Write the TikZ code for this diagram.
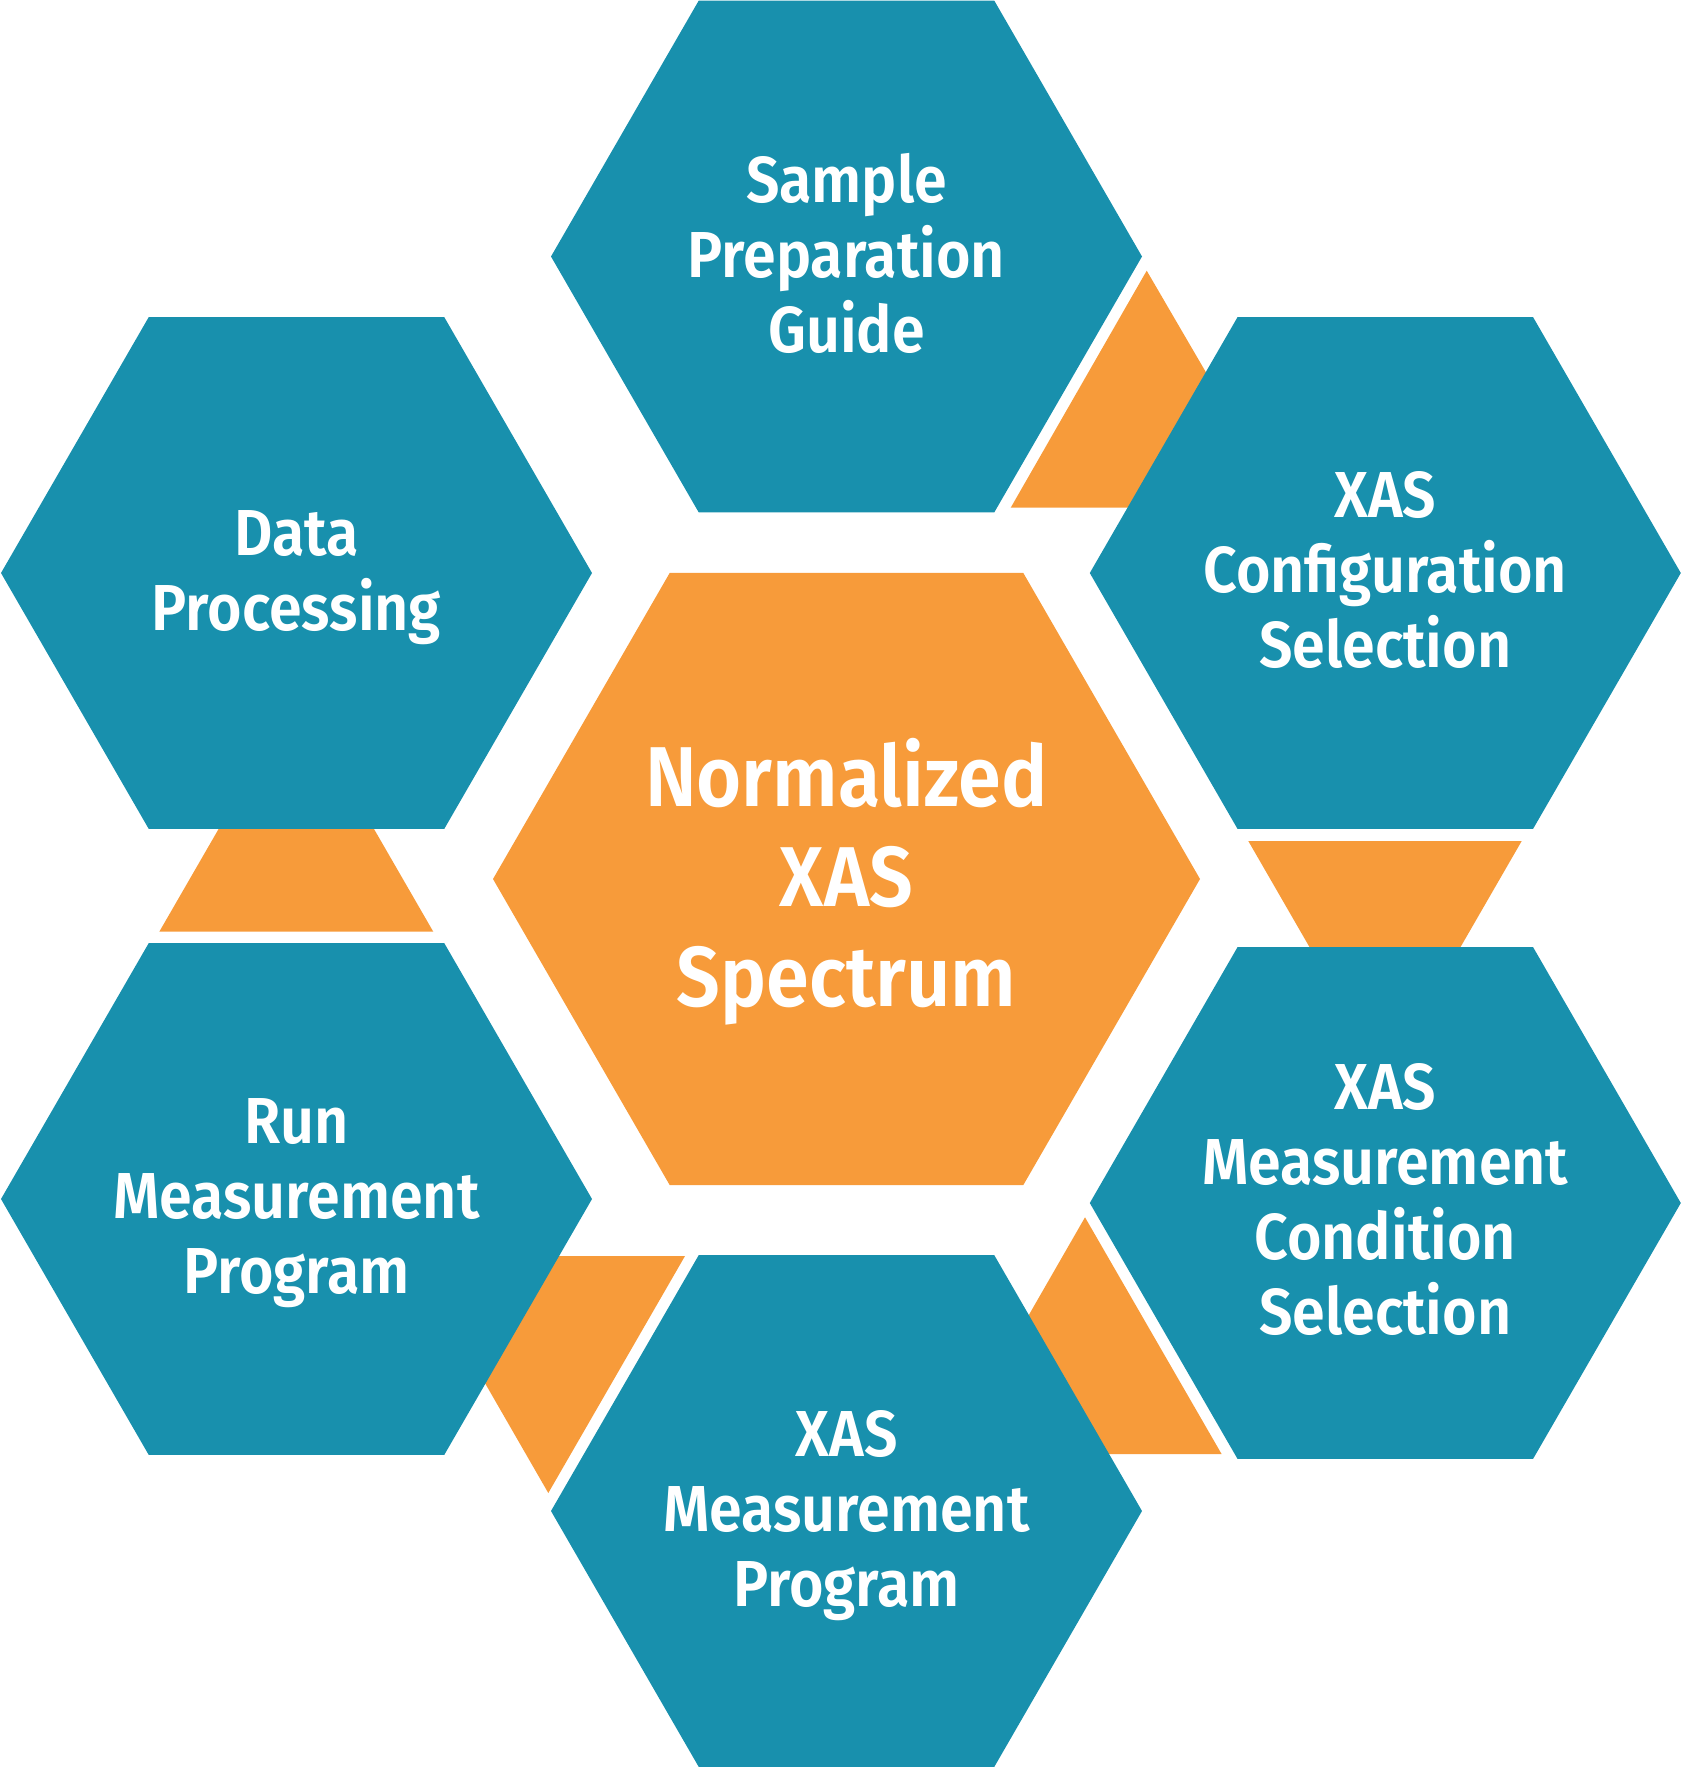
\documentclass[tikz,border=0pt]{standalone}
\usepackage{fontspec}
\setmainfont{Fira Sans}[UprightFont={* SemiBold}, FakeStretch=0.91]
\definecolor{hexteal}{RGB}{24,144,173}
\definecolor{hexorange}{RGB}{247,155,58}
\tikzset{
  hexlabel/.style={text=white, align=center, inner sep=0pt, font=\fontsize{32.5}{37.5}\selectfont},
  bigl/.style={text=white, align=center, inner sep=0pt, font=\fontsize{42.5}{50}\selectfont},
  tri/.style={fill=hexorange},
  hexfill/.style={fill=hexteal}
}
\begin{document}
\begin{tikzpicture}[x=0.5pt,y=-0.5pt]
\useasboundingbox (0,0) rectangle (1681,1768);
% orange triangles
\fill[tri] (1146.7,270.7) -- (1010.7,507.7) -- (1284.9,507.7) -- cycle;
\fill[tri] (1248.3,841) -- (1521.7,841) -- (1385,1077.9) -- cycle;
\fill[tri] (1085,1217.3) -- (948.8,1454.2) -- (1221.7,1454.2) -- cycle;
\fill[tri] (411.8,1256) -- (685,1256) -- (548.3,1493) -- cycle;
\fill[tri] (296.3,694.4) -- (159.3,931.7) -- (433.3,931.7) -- cycle;
% hexagons
\foreach \cx/\cy in {846.5/256.5, 296.5/573, 1385.3/573, 296.5/1199, 1385.3/1203, 846.5/1511}{
  \fill[hexfill, shift={(\cx,\cy)}] (0:295.5) -- (60:295.5) -- (120:295.5) -- (180:295.5) -- (240:295.5) -- (300:295.5) -- cycle;
}
\fill[hexorange, shift={(846.5,879)}] (0:353.5) -- (60:353.5) -- (120:353.5) -- (180:353.5) -- (240:353.5) -- (300:353.5) -- cycle;
% labels
\node[hexlabel] (sample) at (846.5,253) {Sample\\Preparation\\Guide};
\node[hexlabel] (data) at (296.5,578) {Data\\Processing};
\node[hexlabel] (config) at (1385.3,570) {XAS\\Configuration\\Selection};
\node[bigl] (center) at (846.5,882) {Normalized\\XAS\\Spectrum};
\node[hexlabel] (run) at (296.5,1203) {Run\\Measurement\\Program};
\node[hexlabel] (cond) at (1385.3,1199) {XAS\\Measurement\\Condition\\Selection};
\node[hexlabel] (prog) at (846.5,1516) {XAS\\Measurement\\Program};
\end{tikzpicture}
\end{document}
